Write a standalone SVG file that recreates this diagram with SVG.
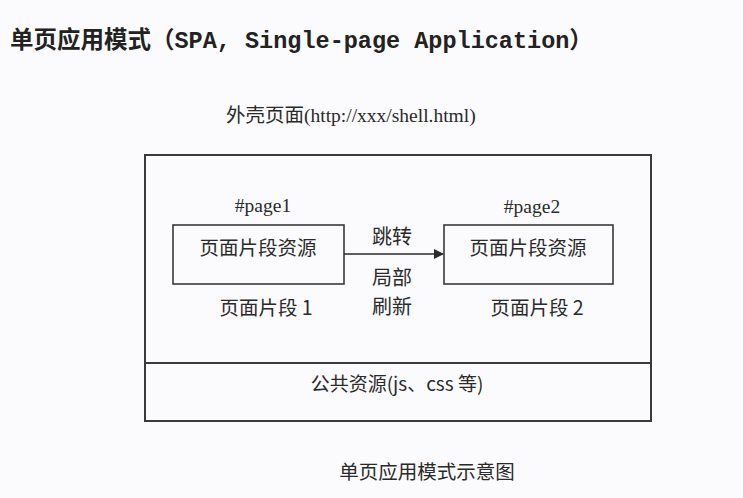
<svg xmlns="http://www.w3.org/2000/svg" width="743" height="498" viewBox="0 0 743 498">
<defs>
<style>
.bg{fill:#fbfbfd}
.box{fill:none;stroke:#3a3a3a;stroke-width:2}
.ibox{fill:none;stroke:#3a3a3a;stroke-width:1.6}
.cjk{font-family:"Noto Sans CJK SC","Noto Sans",sans-serif;fill:#2a2a2a}
.serif{font-family:"Liberation Serif","Noto Sans CJK SC",serif;fill:#2a2a2a}
.title{font-family:"Liberation Mono","Noto Sans CJK SC",monospace;font-weight:bold;fill:#222}
.conn{stroke:#2a2a2a;stroke-width:1.6;fill:none}
</style>
<marker id="arr" markerWidth="10" markerHeight="10" refX="9" refY="5" orient="auto" markerUnits="userSpaceOnUse">
<path d="M0,0 L10,5 L0,10 Z" fill="#2a2a2a"/>
</marker>
</defs>
<rect class="bg" x="0" y="0" width="743" height="498"/>
<text class="title" x="10" y="48" font-size="23.5">单页应用模式（SPA, Single-page Application）</text>
<g id="shell">
<text class="serif" x="226" y="122" font-size="19.5">外壳页面(http://xxx/shell.html)</text>
<rect class="box" x="145" y="155" width="506" height="266"/>
<line class="box" x1="145" y1="363" x2="651" y2="363"/>
</g>
<g id="page1">
<text class="serif" x="263" y="212" font-size="19.5" text-anchor="middle">#page1</text>
<rect class="ibox" x="173" y="225" width="171" height="59"/>
<text class="cjk" x="258" y="255" font-size="19.5" text-anchor="middle">页面片段资源</text>
<text class="cjk" x="266" y="315" font-size="19.5" text-anchor="middle">页面片段 1</text>
</g>
<g id="page2">
<text class="serif" x="532" y="213" font-size="19.5" text-anchor="middle">#page2</text>
<rect class="ibox" x="444" y="225" width="169" height="59"/>
<text class="cjk" x="528" y="255" font-size="19.5" text-anchor="middle">页面片段资源</text>
<text class="cjk" x="537" y="315" font-size="19.5" text-anchor="middle">页面片段 2</text>
</g>
<g id="common">
<text class="cjk" x="397" y="391" font-size="19" text-anchor="middle">公共资源(js、css 等)</text>
</g>
<g id="connectors">
<line class="conn" x1="344" y1="254" x2="443" y2="254" marker-end="url(#arr)"/>
<text class="cjk" x="392" y="244" font-size="20" text-anchor="middle">跳转</text>
<text class="cjk" x="392" y="285" font-size="20" text-anchor="middle">局部</text>
<text class="cjk" x="392" y="314" font-size="20" text-anchor="middle">刷新</text>
</g>
<text class="cjk" x="427" y="479" font-size="19.5" text-anchor="middle">单页应用模式示意图</text>
</svg>
